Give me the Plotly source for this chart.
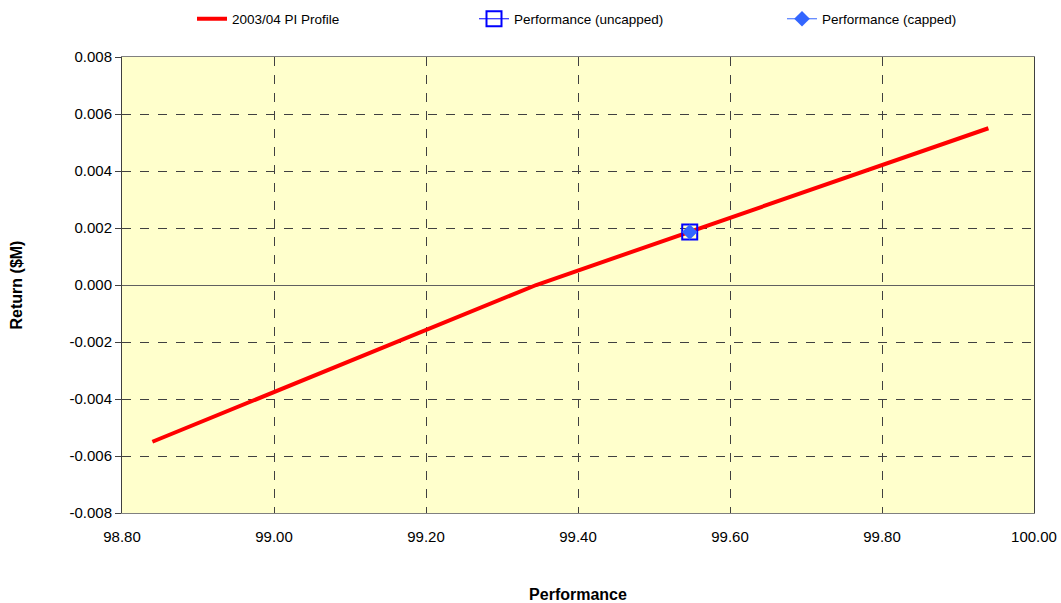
import plotly.graph_objects as go

# Data
profile_perf = [98.84, 99.345, 99.94]
profile_return = [-0.0055, 0.0, 0.0055]
uncapped_perf = [99.547]
uncapped_return = [0.00186]
capped_perf = [99.547]
capped_return = [0.00186]

x_ticks = [98.8, 99.0, 99.2, 99.4, 99.6, 99.8, 100.0]
x_ticktext = ["98.80", "99.00", "99.20", "99.40", "99.60", "99.80", "100.00"]
y_ticks = [-0.008, -0.006, -0.004, -0.002, 0.0, 0.002, 0.004, 0.006, 0.008]
y_ticktext = ["-0.008", "-0.006", "-0.004", "-0.002", "0.000", "0.002", "0.004", "0.006", "0.008"]

fig = go.Figure()
fig.add_trace(go.Scatter(x=profile_perf, y=profile_return, mode="lines",
                         name="2003/04 PI Profile", legend="legend",
                         line=dict(color="#FF0000", width=4)))
fig.add_trace(go.Scatter(x=uncapped_perf, y=uncapped_return, mode="lines+markers",
                         name="Performance (uncapped)", legend="legend2",
                         line=dict(color="#0000FF", width=1),
                         marker=dict(symbol="square-open", size=15, color="#0000FF",
                                     line=dict(width=2, color="#0000FF"))))
fig.add_trace(go.Scatter(x=capped_perf, y=capped_return, mode="lines+markers",
                         name="Performance (capped)", legend="legend3",
                         line=dict(color="#3366FF", width=1),
                         marker=dict(symbol="diamond", size=12, color="#3366FF")))

W, H = 1061, 603
font = "Liberation Sans, Arial, sans-serif"
leg_common = dict(xref="container", yref="container", xanchor="left", yanchor="middle",
                  y=1 - 19 / H, font=dict(size=13.5), bgcolor="rgba(0,0,0,0)",
                  orientation="h", itemwidth=30)
fig.update_layout(
    width=W, height=H,
    margin=dict(l=122, r=27, t=57, b=90),
    paper_bgcolor="white",
    plot_bgcolor="#FFFFCC",
    font=dict(family=font, size=15, color="black"),
    showlegend=True,
    legend=dict(x=192 / W, **leg_common),
    legend2=dict(x=474 / W, **leg_common),
    legend3=dict(x=782 / W, **leg_common),
    xaxis=dict(range=[98.8, 100.0], tickvals=x_ticks, ticktext=x_ticktext,
               tickfont=dict(size=15), ticklabelstandoff=10,
               showgrid=True, gridcolor="#404040", griddash="dash", gridwidth=1,
               showline=True, linecolor="#808080", linewidth=1, mirror=True,
               ticks="inside", ticklen=6, tickcolor="#404040",
               zeroline=False, automargin=False,
               title=dict(text="<b>Performance</b>", font=dict(size=16), standoff=45)),
    yaxis=dict(range=[-0.008, 0.008], tickvals=y_ticks, ticktext=y_ticktext,
               tickfont=dict(size=15),
               showgrid=True, gridcolor="#404040", griddash="dash", gridwidth=1,
               showline=True, linecolor="#404040", linewidth=1, mirror=True,
               ticks="outside", ticklen=6, tickcolor="#404040",
               zeroline=True, zerolinecolor="#606060", zerolinewidth=1,
               automargin=False,
               title=dict(text="<b>Return ($M)</b>", font=dict(size=16), standoff=42)),
)
# remove the browser's default body margin so the figure fills the window exactly
fig.write_html("out.html", config={"displayModeBar": False},
               post_script="document.body.style.margin='0';")
